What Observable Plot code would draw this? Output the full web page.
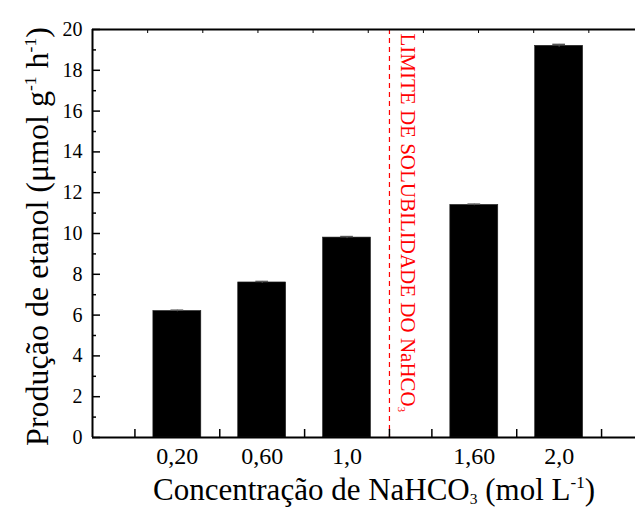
<!DOCTYPE html>
<html><head><meta charset="utf-8">
<script src="https://cdn.jsdelivr.net/npm/d3@7"></script>
<script src="https://cdn.jsdelivr.net/npm/@observablehq/plot@0.6"></script>
<style>body{margin:0;background:#fff;} svg{display:block;}</style>
</head><body><div id="chart"></div>
<script>
// ---- data ----
const concentrations = [0.2, 0.6, 1.0, 1.6, 2.0];
const concentrationLabels = ["0,20", "0,60", "1,0", "1,60", "2,0"];
const ethanol = [6.2, 7.6, 9.8, 11.4, 19.2];
const ethanolErr = [0.04, 0.05, 0.05, 0.04, 0.07];
const solubilityLimit = [1.2];
const solubilityLabel = "LIMITE DE SOLUBILIDADE DO NaHCO3";
const yMajorTicks = [0, 2, 4, 6, 8, 10, 12, 14, 16, 18, 20];
const yMinorTicks = [1, 3, 5, 7, 9, 11, 13, 15, 17, 19];
const xBottomTicks = [0, 0.4, 0.8, 1.2, 1.4, 1.8, 2.2];
const xTopTicks = [0.06, 0.32, 0.58, 0.84, 1.10, 1.36, 1.62, 1.88, 2.14];
const yTitleParts = [["Produção de etanol (μmol g", ""], ["-1", "sup"], [" h", ""], ["-1", "sup"], [")", ""]];
const xTitleParts = [["Concentração de NaHCO", ""], ["3", "sub"], [" (mol L", ""], ["-1", "sup"], [")", ""]];

const data = concentrations.map((c, i) => ({x: c, y: ethanol[i], e: ethanolErr[i]}));
const half = 0.113, cap = 0.03;
const plain = parts => parts.map(p => p[0]).join("");
const font = "'Liberation Serif', 'Times New Roman', serif";

const chart = Plot.plot({
  width: 635, height: 515,
  marginLeft: 92, marginRight: 0, marginTop: 29, marginBottom: 78,
  style: {fontFamily: font, color: "black", background: "white"},
  x: {domain: [-0.2, 2.36]},
  y: {domain: [0, 20]},
  marks: [
    Plot.rectY(data, {x1: d => d.x - half, x2: d => d.x + half, y1: 0, y2: "y", fill: "black", stroke: "#222", strokeWidth: 0.6}),
    Plot.ruleX(data, {x: "x", y1: d => d.y - d.e, y2: d => d.y + d.e, stroke: "#555"}),
    Plot.ruleY(data, {y: d => d.y + d.e, x1: d => d.x - cap, x2: d => d.x + cap, stroke: "#555", strokeWidth: 1.5}),
    Plot.ruleX(solubilityLimit, {stroke: "red", strokeDasharray: "5,4", strokeWidth: 1.2}),
    Plot.text(solubilityLimit, {x: d => d, y: 20, text: () => solubilityLabel, rotate: 90, textAnchor: "start", lineAnchor: "middle", dx: 18, dy: 4, fill: "red", fontSize: 21}),
    // frame
    Plot.ruleY([0, 20], {stroke: "black", strokeWidth: 2}),
    Plot.ruleX([-0.2], {stroke: "black", strokeWidth: 2}),
    // y axis
    Plot.axisY({ticks: yMajorTicks, tickSize: -8, text: null, label: null, strokeWidth: 1.5}),
    Plot.axisY({ticks: yMinorTicks, tickSize: -4, text: null, label: null, strokeWidth: 1.5}),
    Plot.axisY({ticks: yMajorTicks, tickSize: 0, tickPadding: 10, fontSize: 20, label: null}),
    // x axis
    Plot.axisX({anchor: "bottom", ticks: xBottomTicks, tickSize: -8, text: null, label: null, strokeWidth: 1.5}),
    Plot.axisX({anchor: "top", ticks: xTopTicks, tickSize: -3, text: null, label: null, strokeWidth: 1}),
    Plot.axisX({anchor: "bottom", ticks: concentrations, tickSize: 0, tickPadding: 9, fontSize: 24,
      tickFormat: d => concentrationLabels[concentrations.indexOf(d)], label: null}),
    // titles
    Plot.text([plain(yTitleParts)], {frameAnchor: "left", rotate: -90, dx: -55, dy: 3, fontSize: 32, lineAnchor: "middle", textAnchor: "middle"}),
    Plot.text([plain(xTitleParts)], {frameAnchor: "bottom", dx: 10, dy: 53, fontSize: 31, lineAnchor: "middle", textAnchor: "middle"})
  ]
});
document.getElementById("chart").appendChild(chart);

// rich text: superscripts / subscripts
function enrich(parts, size) {
  const full = plain(parts);
  chart.querySelectorAll("text").forEach(t => {
    if (t.textContent === full) {
      while (t.firstChild) t.removeChild(t.firstChild);
      for (const [s, kind] of parts) {
        const ts = document.createElementNS("http://www.w3.org/2000/svg", "tspan");
        ts.textContent = s;
        if (kind === "sup") { ts.setAttribute("font-size", size * 0.55); ts.setAttribute("baseline-shift", size * 0.38); }
        if (kind === "sub") { ts.setAttribute("font-size", size * 0.5); ts.setAttribute("baseline-shift", -size * 0.12); }
        t.appendChild(ts);
      }
    }
  });
}
enrich(yTitleParts, 32);
enrich(xTitleParts, 31);
enrich([["LIMITE DE SOLUBILIDADE DO NaHCO", ""], ["3", "sub"]], 21);
</script>
</body></html>
